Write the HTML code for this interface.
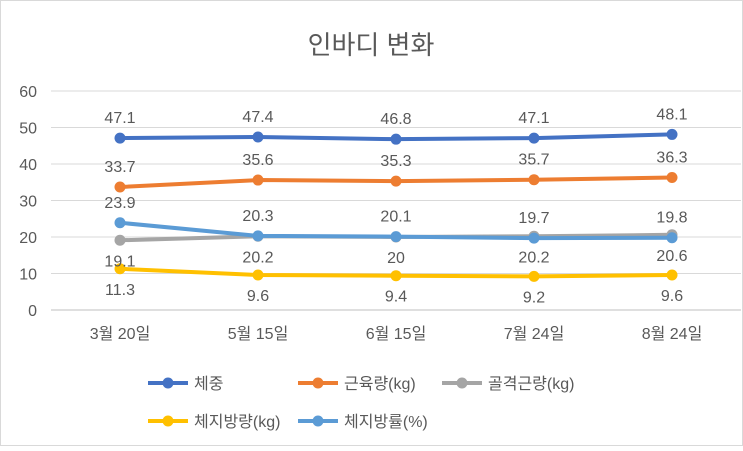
<!DOCTYPE html>
<html><head><meta charset="utf-8"><style>
body{margin:0;background:#fff}
svg text{font-family:"Liberation Sans","Noto Sans CJK KR",sans-serif;fill:#595959}
</style></head><body>
<svg id="chart" width="743" height="446">
<rect x="0.5" y="0.5" width="742" height="445" fill="#fff" stroke="#d9d9d9"/>
<text x="371" y="54" text-anchor="middle" font-size="26">인바디 변화</text>
<g id="grid"></g><g id="series"></g><g id="legend"></g>
</svg>
<script>
const categories=["3월 20일","5월 15일","6월 15일","7월 24일","8월 24일"];
const yTicks=[0,10,20,30,40,50,60];
const seriesNames=["체중","근육량(kg)","골격근량(kg)","체지방량(kg)","체지방률(%)"];
const weight=[47.1,47.4,46.8,47.1,48.1];
const muscle=[33.7,35.6,35.3,35.7,36.3];
const skeletal=[19.1,20.2,20,20.2,20.6];
const fatMass=[11.3,9.6,9.4,9.2,9.6];
const fatRate=[23.9,20.3,20.1,19.7,19.8];
const NS="http://www.w3.org/2000/svg";
const x0=51,step=138,yBase=310,yPer=3.65;
const xs=i=>x0+step*(i+0.5);
const ys=v=>yBase-v*yPer;
function mk(tag,attrs,parent){const e=document.createElementNS(NS,tag);for(const k in attrs)e.setAttribute(k,attrs[k]);parent.appendChild(e);return e;}
const grid=document.getElementById('grid');
yTicks.forEach(t=>{
 const l=mk('line',{x1:x0,x2:x0+step*5,y1:ys(t),y2:ys(t),stroke:t===0?'#bfbfbf':'#d9d9d9'},grid);
 
 
 const tx=mk('text',{x:37,y:ys(t)+6,'text-anchor':'end','font-size':'16'},grid);
 tx.textContent=t;
 
 
});
categories.forEach((c,i)=>{
 const tx=mk('text',{x:xs(i),y:339,'text-anchor':'middle','font-size':'16'},grid);
 tx.textContent=c;
 
 
});
const data=[weight,muscle,skeletal,fatMass,fatRate];
const colors=["#4472C4","#ED7D31","#A5A5A5","#FFC000","#5B9BD5"];
const labelPos=[[-1,-1,-1,-1,-1],[-1,-1,-1,-1,-1],[1,1,1,1,1],[1,1,1,1,1],[-1,-1,-1,-1,-1]];
const order=[2,0,1,3,4];
const sg=document.getElementById('series');
order.forEach(s=>{
 const vals=data[s];
 const p=mk('polyline',{points:vals.map((v,i)=>xs(i)+','+ys(v)).join(' '),fill:'none',stroke:colors[s],'stroke-width':'4','stroke-linejoin':'round'},sg);
 
 
 vals.forEach((v,i)=>{
  const c=mk('circle',{cx:xs(i),cy:ys(v),r:5.5,fill:colors[s]},sg);
  
  
 });
});
order.forEach(s=>{
 data[s].forEach((v,i)=>{
  const d=labelPos[s][i];
  const t=mk('text',{x:xs(i),y:ys(v)+(d<0?-15:26),'text-anchor':'middle','font-size':'16'},sg);
  t.textContent=v;
  
  
 });
});
const lg=document.getElementById('legend');
const lpos=[[148,383],[298,383],[442,383],[148,421],[298,421]];
seriesNames.forEach((n,s)=>{
 const g=mk('g',{},lg);
 
 
 const [lx,ly]=lpos[s];
 mk('line',{x1:lx,x2:lx+40,y1:ly,y2:ly,stroke:colors[s],'stroke-width':'4'},g);
 mk('circle',{cx:lx+20,cy:ly,r:5.5,fill:colors[s]},g);
 const t=mk('text',{x:lx+46,y:ly+6,'font-size':'16'},g);
 t.textContent=n;
});
</script>
</body></html>
